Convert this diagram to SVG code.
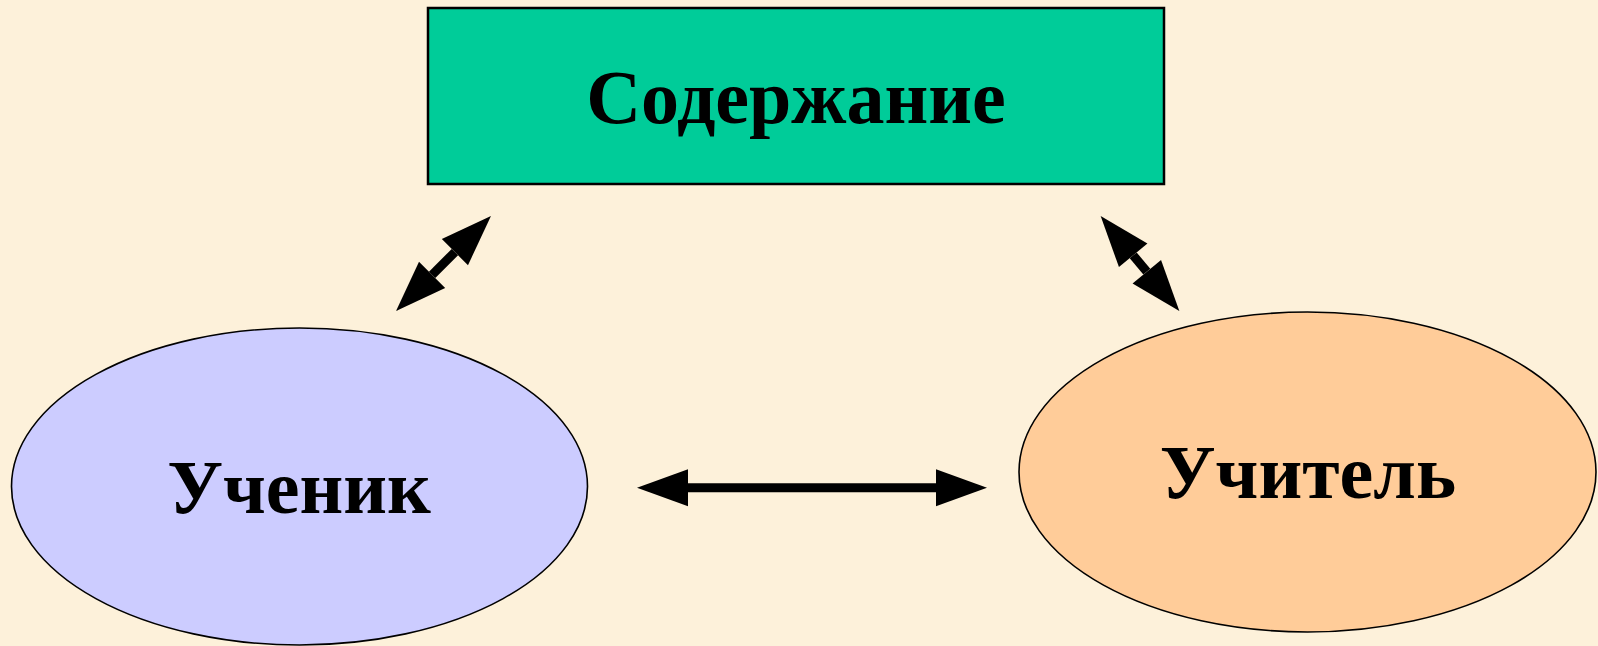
<svg xmlns="http://www.w3.org/2000/svg" width="1598" height="646" viewBox="0 0 1598 646">
<style>
  .lbl { font-family: "Liberation Serif", "Times New Roman", serif; font-weight: bold; font-size: 76px; fill: #000; text-anchor: middle; }
  .node { stroke: #000; }
  .conn line { stroke: #000; stroke-width: 9; }
</style>
<defs>
  <marker id="head" markerUnits="userSpaceOnUse" markerWidth="52" markerHeight="38" refX="0" refY="18.5" orient="auto-start-reverse" viewBox="0 0 52 38" overflow="visible">
    <path d="M0,0 L51,18.5 L0,37 z" fill="#000"/>
  </marker>
</defs>
<rect x="0" y="0" width="1598" height="646" fill="#FDF1DA"/>
<g id="content">
  <rect class="node" x="428" y="8" width="736" height="176" fill="#00CC99" stroke-width="2.5"/>
  <text class="lbl" x="796" y="123">Содержание</text>
</g>
<g id="student">
  <ellipse class="node" cx="299.5" cy="486.5" rx="288" ry="158.5" fill="#CCCCFF" stroke-width="1.6"/>
  <text class="lbl" x="299" y="513">Ученик</text>
</g>
<g id="teacher">
  <ellipse class="node" cx="1307.5" cy="472" rx="288.5" ry="160" fill="#FFCC99" stroke-width="1.6"/>
  <text class="lbl" x="1308" y="498">Учитель</text>
</g>
<g id="connectors" class="conn">
  <line x1="432.1" y1="274.9" x2="454.9" y2="252.1" marker-start="url(#head)" marker-end="url(#head)"/>
  <line x1="1133.2" y1="255.3" x2="1146.8" y2="271.7" marker-start="url(#head)" marker-end="url(#head)"/>
  <line x1="688" y1="487.7" x2="936" y2="487.7" marker-start="url(#head)" marker-end="url(#head)"/>
</g>
</svg>
